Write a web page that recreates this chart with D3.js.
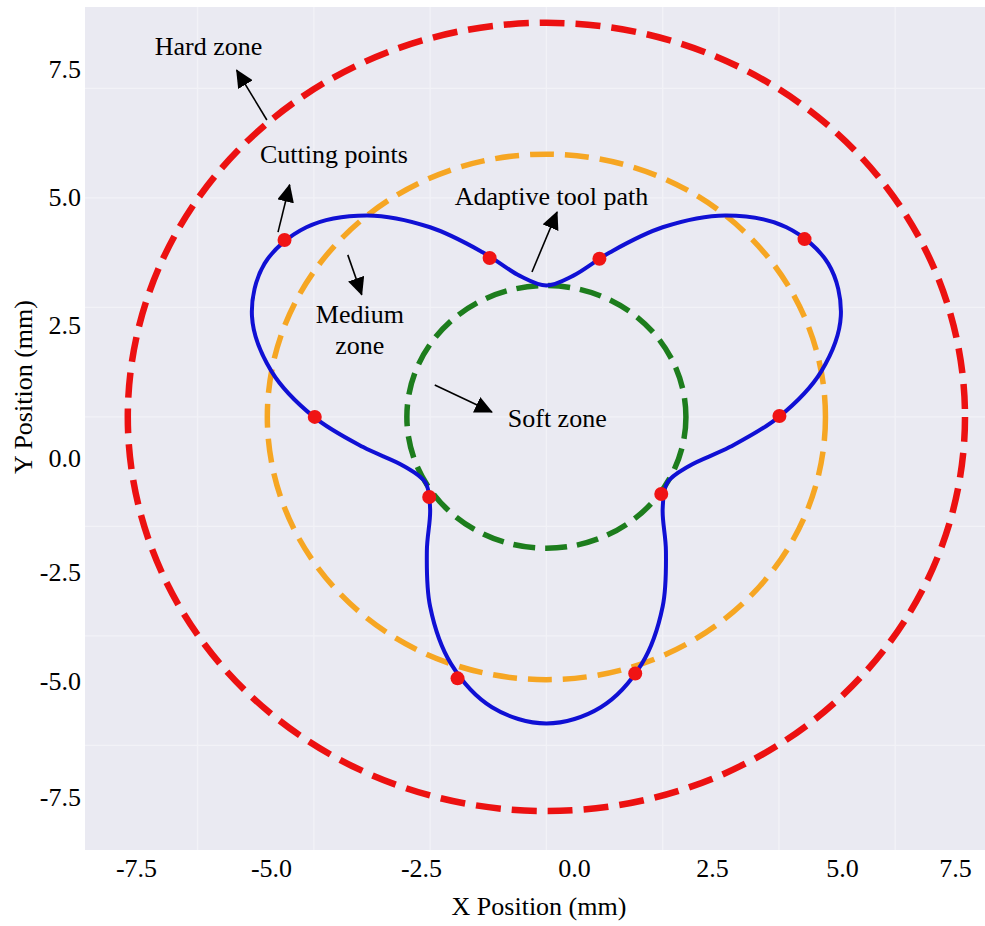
<!DOCTYPE html>
<html>
<head>
<meta charset="utf-8">
<script src="https://cdn.jsdelivr.net/npm/d3@7"></script>
<style>
  body { margin: 0; background: #fff; }
  svg { display: block; font-family: "Liberation Serif", "Times New Roman", serif; }
</style>
</head>
<body>
<svg id="chart"></svg>
<script>
// tick values on both axes (mm)
let ticks = [-7.5, -5.0, -2.5, 0.0, 2.5, 5.0, 7.5];

// zone boundaries, centred on the origin (radius in mm)
let zoneNames = ["Hard zone", "Medium zone", "Soft zone"];
let zoneRadii = [9.0, 6.0, 3.0];

// adaptive tool path (mm)
let pathX = [5.00, 5.91, 6.33, 6.06, 5.16, 3.86, 2.50, 1.37, 0.57, 0.00, -0.57, -1.37,
  -2.50, -3.86, -5.16, -6.06, -6.33, -5.91, -5.00, -3.94, -3.07, -2.60, -2.50, -2.57,
  -2.50, -2.05, -1.17, 0.00, 1.17, 2.05, 2.50, 2.57, 2.50, 2.60, 3.07, 3.94];
let pathY = [0.00, 1.04, 2.30, 3.50, 4.33, 4.60, 4.33, 3.76, 3.22, 3.00, 3.22, 3.76,
  4.33, 4.60, 4.33, 3.50, 2.30, 1.04, 0.00, -0.69, -1.12, -1.50, -2.10, -3.06,
  -4.33, -5.64, -6.63, -7.00, -6.63, -5.64, -4.33, -3.06, -2.10, -1.50, -1.12, -0.69];

// cutting points (mm)
let cutX = [-5.63, -1.22, 1.14, 5.55, -4.98, 5.01, -2.52, 2.47, -1.91, 1.91];
let cutY = [4.04, 3.63, 3.61, 4.06, 0.00, 0.02, -1.83, -1.76, -5.97, -5.86];

let w = 985;
let h = 926;
let plot = { left: 85, right: 985, top: 7, bottom: 850 };

let svg = d3.select('#chart').attr('width', w).attr('height', h);

let xSc = d3.scaleLinear().domain([-9.92, 9.43]).range([plot.left, plot.right]);
let ySc = d3.scaleLinear().domain([-9.89, 9.36]).range([plot.bottom, plot.top]);

// in the source the tick labels sit off the grid lines; place them where they are drawn
let labelX = d3.scaleLinear().domain(ticks).range([136, 271, 421, 574, 712, 842, 955]);
let labelY = d3.scaleLinear().domain(ticks).range([797, 681, 572, 458, 325.5, 197.5, 69]);

// background + grid (seaborn darkgrid look)
svg.append('rect')
   .attr('x', plot.left).attr('y', plot.top)
   .attr('width', plot.right - plot.left).attr('height', plot.bottom - plot.top)
   .attr('fill', '#eaeaf2');

let grid = svg.append('g').attr('stroke', '#f2f2f7').attr('stroke-width', 1.3);
grid.selectAll('line.gx').data(ticks).enter().append('line')
    .attr('x1', d => xSc(d)).attr('x2', d => xSc(d))
    .attr('y1', plot.top).attr('y2', plot.bottom);
grid.selectAll('line.gy').data(ticks).enter().append('line')
    .attr('y1', d => ySc(d)).attr('y2', d => ySc(d))
    .attr('x1', plot.left).attr('x2', plot.right);

// zone circles
let zoneStyle = [
  { color: '#ec1111', width: 6.5, dash: '25 11' },
  { color: '#f6a623', width: 5.5, dash: '24 11' },
  { color: '#1d7d1d', width: 5.5, dash: '22 10' }
];
svg.append('g').selectAll('ellipse')
   .data(zoneRadii)
   .enter()
   .append('ellipse')
   .attr('cx', xSc(0))
   .attr('cy', ySc(0))
   .attr('rx', d => xSc(d) - xSc(0))
   .attr('ry', d => ySc(0) - ySc(d))
   .attr('fill', 'none')
   .attr('stroke', (d, i) => zoneStyle[i].color)
   .attr('stroke-width', (d, i) => zoneStyle[i].width)
   .attr('stroke-dasharray', (d, i) => zoneStyle[i].dash);

// tool path
let pts = pathX.map((x, i) => [x, pathY[i]]);
let line = d3.line()
             .x(d => xSc(d[0]))
             .y(d => ySc(d[1]))
             .curve(d3.curveCatmullRomClosed);
svg.append('path')
   .datum(pts)
   .attr('d', line)
   .attr('fill', 'none')
   .attr('stroke', '#1010d4')
   .attr('stroke-width', 4);

// cutting points
svg.append('g').selectAll('circle')
   .data(cutX.map((x, i) => [x, cutY[i]]))
   .enter()
   .append('circle')
   .attr('cx', d => xSc(d[0]))
   .attr('cy', d => ySc(d[1]))
   .attr('r', 7)
   .attr('fill', '#f01414');

// axes (labels only)
let xAxis = d3.axisBottom(labelX).tickValues(ticks).tickSize(0).tickPadding(0)
              .tickFormat(d => d.toFixed(1));
let gx = svg.append('g').attr('transform', 'translate(0, 859)').call(xAxis);
gx.select('.domain').remove();
gx.selectAll('text').attr('font-size', 26).attr('fill', '#000')
  .attr('font-family', '"Liberation Serif", "Times New Roman", serif');

let yAxis = d3.axisLeft(labelY).tickValues(ticks).tickSize(0).tickPadding(0)
              .tickFormat(d => d.toFixed(1));
let gy = svg.append('g').attr('transform', 'translate(81, 0)').call(yAxis);
gy.select('.domain').remove();
gy.selectAll('text').attr('font-size', 26).attr('fill', '#000')
  .attr('font-family', '"Liberation Serif", "Times New Roman", serif');

svg.append('text')
   .attr('x', 539).attr('y', 915)
   .attr('text-anchor', 'middle')
   .attr('font-size', 26).attr('fill', '#000')
   .text('X Position (mm)');

svg.append('text')
   .attr('transform', 'translate(32, 387) rotate(-90)')
   .attr('text-anchor', 'middle')
   .attr('font-size', 26).attr('fill', '#000')
   .text('Y Position (mm)');

// annotations: text and arrow (tail -> tip) in mm
let notes = [
  { lines: [zoneNames[0]], tx: -8.42, ty: 8.26, anchor: 'start', from: [-6.01, 6.78], to: [-6.66, 7.92] },
  { lines: ['Cutting points'], tx: -6.16, ty: 5.80, anchor: 'start', from: [-5.77, 4.22], to: [-5.52, 5.30] },
  { lines: ['Adaptive tool path'], tx: -1.97, ty: 4.84, anchor: 'start', from: [-0.31, 3.31], to: [0.23, 4.68] },
  { lines: ['Medium', 'zone'], tx: -4.01, ty: 2.15, anchor: 'middle', from: [-4.27, 3.70], to: [-3.97, 2.79] },
  { lines: [zoneNames[2]], tx: -0.83, ty: -0.23, anchor: 'start', from: [-2.40, 0.73], to: [-1.17, 0.11] }
];

svg.append('defs').append('marker')
   .attr('id', 'head')
   .attr('markerUnits', 'userSpaceOnUse')
   .attr('viewBox', '0 0 18 17')
   .attr('markerWidth', 18).attr('markerHeight', 17)
   .attr('refX', 17).attr('refY', 8.5)
   .attr('orient', 'auto')
   .append('path')
   .attr('d', 'M0,0 L18,8.5 L0,17 Z')
   .attr('fill', '#000');

let ann = svg.append('g');
notes.forEach(n => {
  ann.append('line')
     .attr('x1', xSc(n.from[0])).attr('y1', ySc(n.from[1]))
     .attr('x2', xSc(n.to[0])).attr('y2', ySc(n.to[1]))
     .attr('stroke', '#000').attr('stroke-width', 1.6)
     .attr('marker-end', 'url(#head)');
  let t = ann.append('text')
             .attr('x', xSc(n.tx)).attr('y', ySc(n.ty))
             .attr('text-anchor', n.anchor)
             .attr('font-size', 26).attr('fill', '#000');
  n.lines.forEach((s, i) => {
    t.append('tspan').attr('x', xSc(n.tx)).attr('dy', i ? 31 : 0).text(s);
  });
});
</script>
</body>
</html>
